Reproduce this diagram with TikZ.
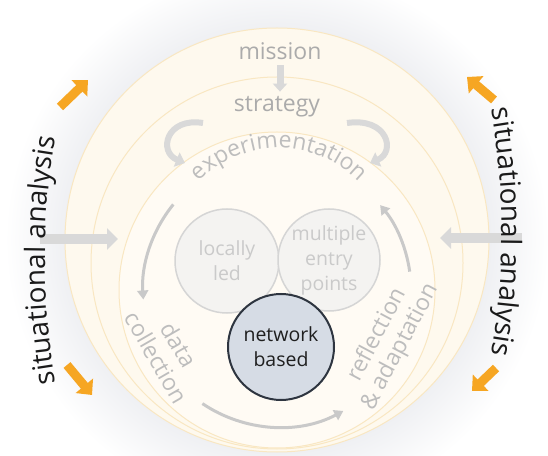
\documentclass[tikz,border=0pt]{standalone}
\usepackage{fontspec}
\setmainfont{Open Sans}
\usetikzlibrary{arrows.meta,decorations.text}
\definecolor{glowc}{HTML}{EFF0F3}
\definecolor{cream}{HTML}{FEF9EE}
\definecolor{creamin}{HTML}{FFFBF4}
\definecolor{ringc}{HTML}{F9E7C2}
\definecolor{txtgray}{HTML}{BDBDBD}
\definecolor{txtdark}{HTML}{ABABAB}
\definecolor{venntxt}{HTML}{CACACA}
\definecolor{vennline}{HTML}{D5D5D5}
\definecolor{vennfill}{HTML}{F4F3F1}
\definecolor{netfill}{HTML}{D6DCE5}
\definecolor{netline}{HTML}{2E3540}
\definecolor{arrgray}{HTML}{D9D9D9}
\definecolor{cycgray}{HTML}{C9C9C9}
\definecolor{orangec}{HTML}{F6A623}
\definecolor{sitc}{HTML}{1A1A1A}
\pgfdeclareradialshading{glow}{\pgfpoint{0bp}{0bp}}{color(0bp)=(glowc); color(19.5bp)=(glowc); color(25bp)=(white); color(50bp)=(white)}
\begin{document}
\begin{tikzpicture}[x=1pt,y=1pt,
  ring/.style={circle, inner sep=0pt, draw=ringc, line width=1pt},
  lbl/.style={text=txtgray, font=\fontsize{23}{26}\selectfont, inner sep=0pt},
  venn/.style={circle, inner sep=0pt, align=center, font=\fontsize{19.5}{25}\selectfont},
  garrow/.style={draw=arrgray, line width=10pt, -{Triangle[length=11pt,width=21pt]}},
  oarrow/.style={draw=orangec, line width=9pt, -{Triangle[length=12pt,width=22pt]}},
  cyc/.style={draw=cycgray, line width=3pt, -{Triangle[length=9pt,width=11pt]}},
  carrow/.style={draw=arrgray, line width=6pt, -{Triangle[length=9pt,width=15pt]}},
  sit/.style={decorate, decoration={text along path, text align=center, text color=sitc, text={|\fontsize{28}{28}\selectfont|situational analysis}}}
]
\useasboundingbox (0,0) rectangle (548,455);
\fill[white] (0,0) rectangle (548,455);
\shade[shading=glow] (277,215) circle (272);
% nested rings
\node[ring, fill=cream, minimum size=424pt] (mis) at (277,215) {};
\node[ring, fill=cream, minimum size=372pt] (str) at (277,192) {};
\node[ring, fill=creamin, minimum size=316pt] (exp) at (277,165) {};
% mission / strategy
\node[lbl, text=txtdark, anchor=base] (mission) at (280,395) {mission};
\node[lbl, text=txtdark, anchor=base] (strategy) at (277,343) {strategy};
\draw[draw=arrgray, line width=7pt, -{Triangle[length=8pt,width=14pt]}, shorten <=5pt, shorten >=5pt] (mission.south) -- (mission.south |- strategy.north);
% experimentation
\path[decorate, decoration={text along path, text align=center, text color=txtgray, text={|\fontsize{23}{23}\selectfont|experimentation}}] ([shift={(160:112)}]279,195) arc[start angle=160, end angle=20, radius=112];
% curved arrows strategy -> experimentation
\coordinate (cl1) at (203,332); \coordinate (cl2) at (185,292);
\draw[carrow] (cl1) .. controls (166,338) and (158,303) .. (cl2);
\coordinate (cr1) at (347,332); \coordinate (cr2) at (370,292);
\draw[carrow] (cr1) .. controls (388,338) and (396,303) .. (cr2);
% cycle arcs
\coordinate (cc) at (279,165);
\draw[cyc] ([shift={(141:136)}]cc) arc[start angle=141, end angle=184, radius=136];
\draw[cyc] ([shift={(236:137)}]cc) arc[start angle=236, end angle=298, radius=137];
\draw[cyc] ([shift={(8:132)}]cc) arc[start angle=8, end angle=40, radius=132];
% venn
\node[venn, minimum size=104pt, draw=vennline, fill=vennfill, line width=1.5pt, text=venntxt] (loc) at (227,194) {locally\\led};
\node[venn, minimum size=102pt, draw=vennline, fill=vennfill, line width=1.5pt, text=venntxt] (mep) at (329,195) {multiple\\entry\\points};
\node[venn, minimum size=106pt, draw=netline, fill=netfill, line width=2pt, text=black!88] (net) at (281,108) {network\\based};
% side labels
\node[lbl, rotate=-60, align=center] (datacol) at (168,104) {data\\collection};
\node[lbl, rotate=62, align=center] (reflad) at (389,114) {reflection\\\& adaptation};
% grey horizontal arrows
\coordinate (lgA) at (40,216); \coordinate (lgB) at (118,216);
\draw[garrow] (lgA) -- (lgB);
\coordinate (rgA) at (522,217); \coordinate (rgB) at (440,217);
\draw[garrow] (rgA) -- (rgB);
% orange arrows
\coordinate (oTLa) at (60,348); \coordinate (oTLb) at (88,375);
\coordinate (oTRa) at (494,355); \coordinate (oTRb) at (467,378);
\coordinate (oBLa) at (67,90); \coordinate (oBLb) at (92,60);
\coordinate (oBRa) at (496,87); \coordinate (oBRb) at (472,64);
\draw[oarrow] (oTLa) -- (oTLb);
\draw[oarrow] (oTRa) -- (oTRb);
\draw[oarrow] (oBLa) -- (oBLb);
\draw[oarrow] (oBRa) -- (oBRb);
% situational analysis
\path[sit] ([shift={(195:700)}]745,195) arc[start angle=195, end angle=165, radius=700];
\path[sit] ([shift={(15:700)}]-198,223) arc[start angle=15, end angle=-15, radius=700];
\end{tikzpicture}
\end{document}
